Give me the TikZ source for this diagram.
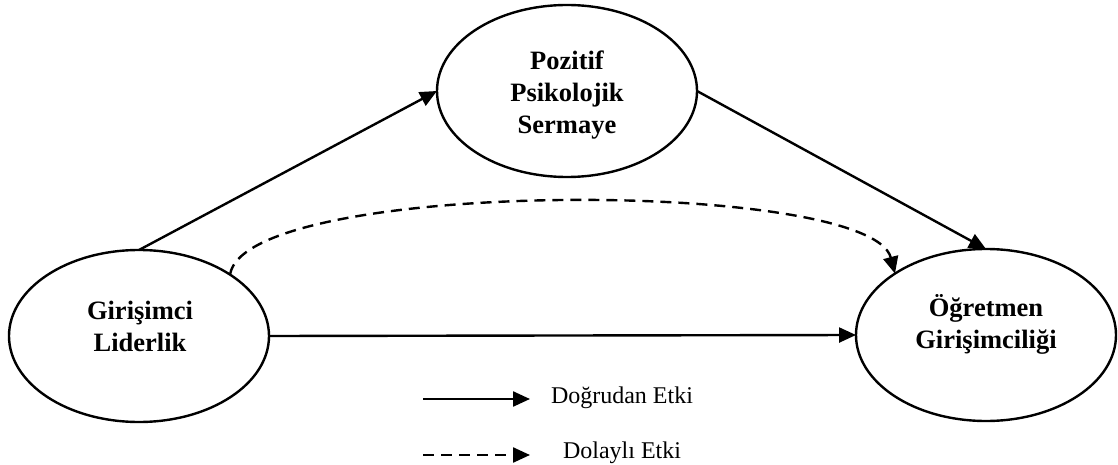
\documentclass[tikz,border=0pt]{standalone}
\usepackage{fontspec}
\setmainfont{Liberation Serif}
\usetikzlibrary{shapes.geometric,arrows.meta}
\tikzset{
  construct/.style={ellipse,draw,line width=2.4pt,inner sep=0pt,outer sep=0pt,
    minimum width=260pt,minimum height=172pt},
  caption/.style={align=center,font=\fontsize{26.5}{32}\selectfont\bfseries},
  path/.style={line width=2.4pt,-{Triangle[length=17pt,width=15pt]}},
  indirect/.style={path,dash pattern=on 11pt off 7pt},
  legendtext/.style={font=\fontsize{24}{28}\selectfont,anchor=center}
}
\begin{document}
\begin{tikzpicture}[x=1pt,y=-1pt]
  \useasboundingbox (0,0) rectangle (1118,465);
  % constructs
  \node[construct] (L) at (139,336) {};
  \node[construct] (T) at (567,91) {};
  \node[construct] (R) at (986,335) {};
  \node[caption] (Ltext) at (140,326) {Girişimci\\Liderlik};
  \node[caption] (Ttext) at (567,95) {Pozitif\\Psikolojik\\Sermaye};
  \node[caption] (Rtext) at (986,324) {Öğretmen\\Girişimciliği};
  % paths
  \draw[path] (L.north) -- (T.west);
  \draw[path] (T.east) -- (R.north);
  \draw[path] (L.east) -- (R.west);
  \draw[indirect] (L.34) .. controls (245,178) and (870,178) .. (R.146);
  % legend
  \coordinate (s1) at (423,399);
  \coordinate (e1) at (530,399);
  \coordinate (s2) at (423,455);
  \coordinate (e2) at (530,455);
  \draw[path] (s1) -- (e1);
  \draw[indirect] (s2) -- (e2);
  \node[legendtext] (d1) at (622,398) {Doğrudan Etki};
  \node[legendtext] (d2) at (622,453) {Dolaylı Etki};
\end{tikzpicture}
\end{document}
